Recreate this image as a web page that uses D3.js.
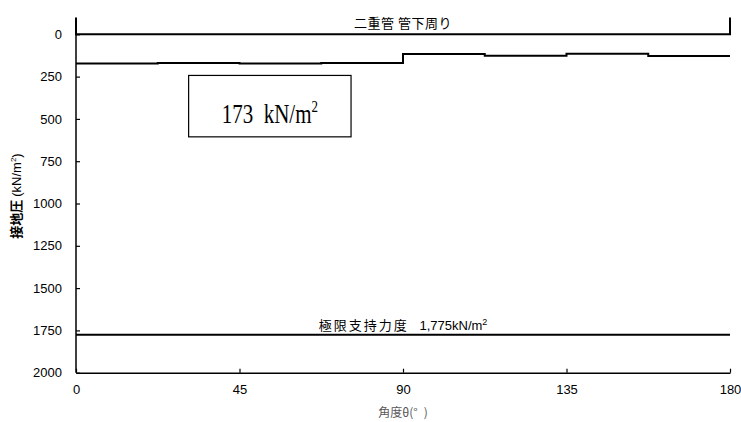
<!DOCTYPE html>
<html>
<head>
<meta charset="utf-8">
<script src="https://cdn.jsdelivr.net/npm/d3@7/dist/d3.min.js"></script>
<style>
html,body{margin:0;padding:0;background:#fff;}
svg{display:block;}
</style>
</head>
<body>
<svg id="chart" width="741" height="422"></svg>
<script>
// ---- data ----
const angleTicks = [0, 45, 90, 135, 180];
const pressureTicks = [0, 250, 500, 750, 1000, 1250, 1500, 1750, 2000];
const stepAngles = [0, 22.5, 45, 67.5, 90, 112.5, 135, 157.5, 180];
const stepValues = [173, 169, 173, 169, 116, 126, 115, 128];
const pipeBracketX = [0, 0, 180, 180];
const pipeBracketY = [-100, 0, 0, -100];
const limitValue = 1775;
const limitAngles = [0, 180];
const boxX = [31, 75.7];
const boxY = [243, 606];
const pipeLabel = "二重管 管下周り";
const limitLabel = "極限支持力度";
const limitValueLabel = "1,775kN/m";
const boxLabel = "173  kN/m";
const xTitle = "角度θ(°\u2002)";

const svg = d3.select("#chart");
const x = d3.scaleLinear().domain([0, 180]).range([76, 730]);
const y = d3.scaleLinear().domain([-100, 2000]).range([17.4, 372.7]);

const sans = "'Liberation Sans', Arial, sans-serif";
const jp = "'Noto Sans CJK JP', sans-serif";

// y axis
const yAxis = d3.axisLeft(y).tickValues(pressureTicks).tickFormat(d3.format("d"))
  .tickSizeInner(-4).tickSizeOuter(0).tickPadding(14);
const gy = svg.append("g").attr("transform", `translate(${x(0)},0)`).call(yAxis);
gy.select(".domain").attr("d", `M0,${y(0)}V${y(2000)}`).attr("stroke", "#000").attr("stroke-width", 1.5);
gy.selectAll(".tick line").attr("stroke", "#000").attr("stroke-width", 1.2);
gy.selectAll(".tick text").attr("font-family", sans).attr("font-size", 13).attr("fill", "#000");

// x axis
const xAxis = d3.axisBottom(x).tickValues(angleTicks).tickFormat(d3.format("d"))
  .tickSizeInner(-4).tickSizeOuter(0).tickPadding(12);
const gx = svg.append("g").attr("transform", `translate(0,${y(2000)})`).call(xAxis);
gx.select(".domain").attr("stroke", "#000").attr("stroke-width", 1.5);
gx.selectAll(".tick line").attr("stroke", "#000").attr("stroke-width", 1.2);
gx.selectAll(".tick text").attr("font-family", sans).attr("font-size", 13).attr("fill", "#000");

// bracket series (0 line)
const line = d3.line().x(d => x(d[0])).y(d => y(d[1]));
svg.append("path")
  .attr("d", line(pipeBracketX.map((v, i) => [v, pipeBracketY[i]])))
  .attr("fill", "none").attr("stroke", "#000").attr("stroke-width", 2);

// step series
const stepPts = stepValues.map((v, i) => [stepAngles[i], v]);
stepPts.push([stepAngles[stepAngles.length - 1], stepValues[stepValues.length - 1]]);
const stepLine = d3.line().x(d => x(d[0])).y(d => y(d[1])).curve(d3.curveStepAfter);
svg.append("path").attr("d", stepLine(stepPts))
  .attr("fill", "none").attr("stroke", "#000").attr("stroke-width", 2);

// limit line
svg.append("path").attr("d", line(limitAngles.map(a => [a, limitValue])))
  .attr("fill", "none").attr("stroke", "#000").attr("stroke-width", 2);

// labels
svg.append("text").attr("x", x(90)).attr("y", 28)
  .attr("text-anchor", "middle").attr("font-family", jp).attr("font-size", 13)
  .attr("letter-spacing", 0.5).attr("fill", "#000")
  .text(pipeLabel);

const lt = svg.append("text").attr("x", x(90)).attr("y", 330)
  .attr("text-anchor", "middle").attr("font-size", 13).attr("fill", "#000")
  .style("white-space", "pre");
lt.append("tspan").attr("font-family", jp).attr("letter-spacing", 2).text(limitLabel);
lt.append("tspan").attr("font-family", sans).text("   " + limitValueLabel);
lt.append("tspan").attr("font-family", sans).attr("font-size", 9).attr("dy", -5).text("2");

// box
svg.append("rect")
  .attr("x", x(boxX[0])).attr("y", y(boxY[0]))
  .attr("width", x(boxX[1]) - x(boxX[0])).attr("height", y(boxY[1]) - y(boxY[0]))
  .attr("fill", "#fff").attr("stroke", "#000").attr("stroke-width", 1.2);
const bcx = (x(boxX[0]) + x(boxX[1])) / 2;
const bt = svg.append("g").attr("transform", `translate(${bcx},122.5) scale(1,1.32)`)
  .append("text").attr("x", 0).attr("y", 0).attr("text-anchor", "middle")
  .attr("font-family", "'Liberation Serif', 'Times New Roman', serif").attr("font-size", 21).attr("fill", "#000")
  .style("white-space", "pre");
bt.append("tspan").text(boxLabel);
bt.append("tspan").attr("font-size", 13).attr("dy", -8).text("2");

// axis titles
svg.append("text").attr("x", x(90)).attr("y", 417).attr("text-anchor", "middle")
  .attr("font-family", jp).attr("font-size", 12).attr("fill", "#595959").style("white-space", "pre")
  .text(xTitle);

const yt = svg.append("text").attr("transform", "translate(21,196) rotate(-90)")
  .attr("text-anchor", "middle").attr("font-size", 13).attr("fill", "#000");
yt.append("tspan").attr("font-family", jp).attr("font-weight", "bold").text("接地圧 ");
yt.append("tspan").attr("font-family", sans).text("(kN/m");
yt.append("tspan").attr("font-family", sans).attr("font-size", 8).attr("dy", -5).text("2");
yt.append("tspan").attr("font-family", sans).attr("dy", 5).text(")");
</script>
</body>
</html>
